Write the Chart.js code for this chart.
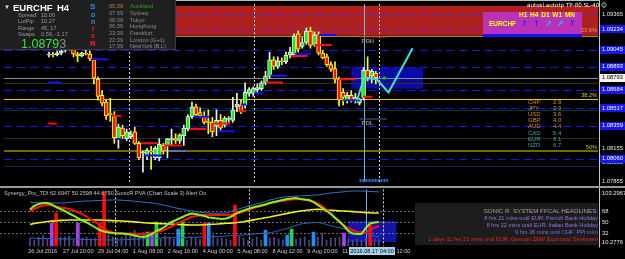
<!DOCTYPE html>
<html>
<head>
<meta charset="utf-8">
<script src="https://cdn.jsdelivr.net/npm/chart.js@4.4.1/dist/chart.umd.min.js"></script>
<style>
body { margin:0; background:#000; width:625px; height:259px; overflow:hidden; position:relative; font-family:"Liberation Sans", Arial, sans-serif; }
canvas { position:absolute; left:0; }
#main { top:0; }
#ind { top:186px; }
.t { position:absolute; white-space:nowrap; line-height:1; }
#info { position:absolute; left:0; top:0; width:175px; height:49px; background:#1f1f1f; border-right:1px solid #3c3c3c; border-bottom:1px solid #3c3c3c; }
#mtf { position:absolute; left:483px; top:12px; width:99px; height:22px; background:#b932b9; border-bottom:3px solid #1414ff; }
#news { position:absolute; left:415px; top:203px; width:183px; height:42px; background:#1d1d1d; }
#tbox { position:absolute; left:349px; top:247px; width:46px; height:8px; background:#a9d4ee; color:#000; font-size:5.6px; line-height:8px; text-align:center; }
</style>
</head>
<body>
<canvas id="main" width="625" height="186"></canvas>
<canvas id="ind" width="625" height="73"></canvas>

<div style="position:absolute;left:0;top:0;width:600px;height:1px;background:#bdbdbd"></div>
<div style="position:absolute;left:0;top:186px;width:625px;height:2px;background:#9a9a9a"></div>

<div id="info"></div>
<div class="t" style="left:4px;top:4px;font-size:6px;color:#ddd">▼</div>
<div class="t" style="left:13px;top:3px;font-size:9.5px;font-weight:bold;color:#fff">EURCHF</div>
<div class="t" style="left:57px;top:3px;font-size:9.5px;font-weight:bold;color:#fff">H4</div>
<div class="t" style="left:18px;top:13px;font-size:5.6px;color:#9a9a9a">Spread</div>
<div class="t" style="left:41px;top:13px;font-size:5.6px;color:#9a9a9a">10.00</div>
<div class="t" style="left:18px;top:19px;font-size:5.6px;color:#9a9a9a">LotPip</div>
<div class="t" style="left:41px;top:19px;font-size:5.6px;color:#9a9a9a">10.27</div>
<div class="t" style="left:18px;top:26px;font-size:5.6px;color:#9a9a9a">Range</div>
<div class="t" style="left:41px;top:26px;font-size:5.6px;color:#9a9a9a">45, 17</div>
<div class="t" style="left:18px;top:32px;font-size:5.6px;color:#9a9a9a">Swaps</div>
<div class="t" style="left:41px;top:32px;font-size:5.6px;color:#9a9a9a">0.59, -1.17</div>
<div class="t" style="left:21px;top:38px;font-size:12.5px;color:#3ce03c">1.0879<span style="color:#8c8c8c">3</span></div>
<div class="t" style="left:90px;top:3px;font-size:8px;font-weight:bold;color:#2a8cf0">S</div>
<div class="t" style="left:91px;top:11px;font-size:7px;font-weight:bold;color:#2a8cf0">o</div>
<div class="t" style="left:91px;top:18px;font-size:7px;font-weight:bold;color:#2a8cf0">n</div>
<div class="t" style="left:92px;top:25px;font-size:7px;font-weight:bold;color:#ff2020">i</div>
<div class="t" style="left:91px;top:32px;font-size:7px;font-weight:bold;color:#ff2020">c</div>
<div class="t" style="left:90px;top:40px;font-size:8px;font-weight:bold;color:#ff2020">R</div>
<div id="clock"></div>

<div class="t" style="left:527px;top:3px;font-size:5.6px;color:#fff;font-family:'DejaVu Sans',sans-serif">autosl.autotp TP-80 SL-40 ☺</div>
<div id="mtf"></div>
<div class="t" style="left:519px;top:12px;font-size:6.5px;color:#ffff00;font-weight:bold;word-spacing:1px">H1 H4 D1 W1 MN</div>
<div class="t" style="left:489px;top:21px;font-size:6.5px;color:#ffff00;font-weight:bold">EURCHF</div>
<div id="arrows"></div>
<div class="t" style="left:581px;top:28px;font-size:5.6px;color:#ff9a1a">23.6%</div>

<div id="strength"></div>

<div class="t" style="left:4px;top:191px;font-size:5.6px;color:#c4c4c4">Synergy_Pro_TDI 62.6947 50.2598 44.6790 SonicR PVA  (Chart Scale 3)  Alert On</div>
<div id="news"></div>
<div id="headlines"></div>
<div id="tbox">2016.08.17 04:00</div>

<script>
// candles, H4 EURCHF, one per bar index
const open = [1.08999,1.09008,1.08999,1.09016,1.09042,1.09095,1.09069,1.09008,1.08990,1.09016,
  1.09008,1.08955,1.08781,1.08634,1.08573,1.08468,1.08442,1.08242,1.08338,1.08242,
  1.08259,1.08303,1.08199,1.08112,1.08085,1.08129,1.08068,1.08068,1.08181,1.08181,
  1.08233,1.08242,1.08225,1.08268,1.08329,1.08442,1.08529,1.08477,1.08442,1.08399,
  1.08390,1.08355,1.08407,1.08364,1.08416,1.08407,1.08529,1.08547,1.08547,1.08651,
  1.08651,1.08686,1.08694,1.08747,1.08808,1.08955,1.08895,1.08947,1.08938,1.08999,
  1.08999,1.09190,1.09077,1.09112,1.09216,1.09095,1.09182,1.09016,1.08982,1.08912,
  1.08877,1.08781,1.08660,1.08590,1.08634,1.08590,1.08564,1.08616,1.08860,1.08808,
  1.08834]
const high = [1.09025,1.09025,1.09034,1.09060,1.09129,1.09129,1.09077,1.09025,1.09025,1.09051,
  1.09034,1.08964,1.08799,1.08677,1.08590,1.08607,1.08486,1.08373,1.08364,1.08329,
  1.08312,1.08346,1.08216,1.08129,1.08155,1.08172,1.08172,1.08242,1.08199,1.08242,
  1.08329,1.08286,1.08286,1.08364,1.08460,1.08573,1.08555,1.08520,1.08486,1.08503,
  1.08434,1.08503,1.08460,1.08442,1.08442,1.08616,1.08651,1.08590,1.08747,1.08703,
  1.08712,1.08738,1.08764,1.08851,1.09025,1.08982,1.08982,1.08973,1.09025,1.09069,
  1.09190,1.09216,1.09156,1.09243,1.09251,1.09208,1.09208,1.09042,1.09008,1.08938,
  1.08938,1.08799,1.08694,1.08660,1.08677,1.08651,1.08607,1.08886,1.08982,1.08868,
  1.08851]
const low = [1.08982,1.08982,1.08990,1.08999,1.09025,1.09042,1.08982,1.08938,1.08982,1.08999,
  1.08947,1.08738,1.08590,1.08538,1.08416,1.08399,1.08199,1.08155,1.08242,1.08225,
  1.08242,1.08190,1.08051,1.07938,1.08051,1.07964,1.08051,1.08042,1.08103,1.08068,
  1.08181,1.08199,1.08199,1.08181,1.08312,1.08425,1.08442,1.08434,1.08373,1.08286,
  1.08259,1.08268,1.08312,1.08346,1.08390,1.08390,1.08486,1.08468,1.08520,1.08625,
  1.08625,1.08660,1.08677,1.08729,1.08790,1.08868,1.08877,1.08912,1.08921,1.08973,
  1.08982,1.09025,1.09060,1.09095,1.09060,1.09077,1.08999,1.08964,1.08895,1.08851,
  1.08747,1.08538,1.08547,1.08564,1.08573,1.08564,1.08547,1.08590,1.08764,1.08747,
  1.08738]
const close = [1.09008,1.08999,1.09016,1.09034,1.09095,1.09069,1.09008,1.08990,1.09016,1.09008,
  1.08964,1.08790,1.08625,1.08564,1.08451,1.08460,1.08251,1.08346,1.08268,1.08303,
  1.08286,1.08199,1.08068,1.08120,1.08138,1.08120,1.08155,1.08190,1.08129,1.08242,
  1.08242,1.08225,1.08277,1.08338,1.08442,1.08529,1.08460,1.08451,1.08390,1.08390,
  1.08303,1.08407,1.08338,1.08425,1.08425,1.08503,1.08555,1.08486,1.08660,1.08686,
  1.08694,1.08703,1.08747,1.08808,1.08955,1.08895,1.08947,1.08938,1.08999,1.09025,
  1.09173,1.09051,1.09112,1.09216,1.09086,1.09182,1.09016,1.08973,1.08912,1.08868,
  1.08781,1.08590,1.08616,1.08634,1.08590,1.08616,1.08599,1.08860,1.08790,1.08851,
  1.08793]

const timeLabels = ['26 Jul 2016','27 Jul 20:00','29 Jul 04:00','1 Aug 08:00','2 Aug 16:00','4 Aug 00:00',
  '5 Aug 08:00','8 Aug 12:00','9 Aug 20:00','11 Aug 04:00','12 Aug 12:00']
const weekStarts = [19.6, 50.2, 80.9]
const markerBar = 77

// price levels
const bid = 1.08793
const gridPrices = [1.09365, 1.08155, 1.08025, 1.07855]
const lineLevels = [1.09365, 1.09234, 1.09045, 1.08893, 1.08684, 1.08517, 1.08359, 1.08060]
const boxedLevels = [1.09234, 1.09045, 1.08893, 1.08684, 1.08517, 1.08359, 1.08060]
const pivotLevels = [1.08747, 1.08503, 1.08251, 1.07998]
const fib236 = 1.09173, fib382 = 1.08599, fib50 = 1.08129
const zone = [1.09173, 1.09443]
const sonicBox = [74, 91.6, 1.08694, 1.08886]

// short lines [fromBar, toBar, price]
const redSegments = [[-0.2,1.9,1.0838],[15.4,17.7,1.0845],[22.5,26.7,1.0820],[28.3,32.5,1.0818],[34.4,38.5,1.0833],
  [40.2,44.4,1.0838],[46.3,48.3,1.0849],[53.1,57.3,1.0875],[59.2,63.3,1.0899],[65,69.2,1.0909],[71,75.2,1.0878],[76.9,79.2,1.0862]]
const blueSegments = [[-0.2,2.9,1.0875],[10.4,14.6,1.0896],[16.5,17.7,1.0824],[23.3,27.7,1.0809],[35.4,39.4,1.0844],
  [41.3,45.4,1.0831],[47,48.3,1.0855],[50.2,52.5,1.0865],[54.2,58.3,1.0881],[60.2,64.2,1.0901],[66,70.2,1.0918],[71.9,76,1.0859]]
const slateSegments = [[29.4,33.5,1.0813]]
const rdh = [76, 82.7, 1.0916]
const rdl = [76, 82.7, 1.0842]
const lowMark = [76, 83, 1.07864]
const projection = [[75.4,1.0859],[77.1,1.0879],[80.2,1.08781],[83.1,1.0866],[89,1.0906]]
const signalDot = [82.1, 1.0879]

// Synergy TDI panel
const priceLine = [70.5,76.2,79.5,81.1,81.1,78.6,74.5,71.3,68,63.9,60.6,56.5,52.4,49.2,45.1,41,36.9,34.5,32.8,32,
  31.2,31.2,30.4,29.6,27.9,26.3,25.5,27.1,30.4,35.3,38.5,42.6,48.4,51.6,54.9,58.2,61.5,63.9,63.1,61.5,
  59.8,57.4,56.5,55.7,54.9,55.7,58.2,62.3,66.4,68.8,71.3,73.7,75.4,77,78.6,81.1,82.7,84.4,86,87.6,
  88.5,89.3,87.6,86.8,86,82.7,77.8,72.9,68,63.1,56.5,50.8,43.5,35.3,31.2,30.4,30.4,40.2,47.6,49.2,50]
const signalLine = [68,71.3,74.5,77,77.8,77,75.4,73.7,72.9,71.3,68.8,66.4,63.1,59,54.1,50,45.1,39.4,35.3,32.8,
  32,31.6,31.3,31,30.7,30.4,30.4,30.7,31.5,33.3,35.3,37.7,41,44.3,48.4,51.6,54.9,58.2,59.8,60.6,
  61.5,61.5,61.5,61.5,61.5,61.5,62.3,63.4,64.7,67.2,69.6,72.1,74.5,76.2,78.6,81.1,82.7,83.9,84.7,85.7,
  86.7,87.3,87.6,86.3,85.2,83.5,80.3,76.2,70.5,63.9,56.5,49.2,44.3,40.2,36.9,33.6,32.8,32.8,36.9,41,43.5]
const baseLine = [45.9,47.6,48.7,49.7,50.7,51.5,52.1,52.6,52.9,53.3,53.3,53.3,53.3,53.3,53.3,53.3,53.3,52.9,52.6,52.3,
  52,51.6,51.3,50.8,50.2,49.5,48.8,48.4,48,47.7,47.4,47.1,46.7,46.3,45.9,45.6,45.3,45.1,45.1,45.1,
  45.4,45.8,46.3,46.7,47.4,47.9,48.2,48.7,49.5,50.5,51.8,53.1,54.4,55.7,57,58.2,59.7,61.1,62.6,64.1,
  65.5,66.9,68,68.8,69.6,70.5,70.9,70.5,69.6,69.1,68.7,68.2,68,67.5,67,66.4,65.9,65.4,65.1,64.7,64.7]
const bandUpper = [82.4,81.9,81.4,81.1,81.1,81.1,81.1,81.1,81.1,81.9,82.7,83.4,83.9,84.4,84.4,84.9,85.2,85.5,85.8,86,
  86,85.7,85.2,84.7,84,83.2,82.4,81.7,81.1,80.3,78.6,77,75.4,73.7,72.1,70.9,69.6,68.3,67.2,66,
  65.1,64.7,64.4,64.4,64.6,64.7,67.2,69.6,71.6,73.7,75.9,77.8,79.5,81.1,83.5,86,87.6,89.3,90.6,91.2,
  91.9,92.2,92.5,93,93.5,93.8,94.2,95.3,96.3,97.4,98.1,98.8,99.4,100.1,100.7,100.7,100.6,100.2,99.9,99.6,99.2]
const bandLower = [23.8,23.5,23.2,23,22.8,22.7,22.5,22.4,22.2,22.2,22,21.9,21.5,21.4,21.2,21,20.9,20.7,20.6,20.6,
  20.6,20.9,21.2,21.5,21.9,22.2,22.5,22.8,23.2,23.5,23.8,24,24.2,24.3,24.5,24.6,24.8,25,25.1,25.3,
  25.5,25.5,26,26.3,26.6,27.1,27.6,27.9,28.4,28.7,29.4,30,30.7,31.2,32,32.3,34,35.9,37.9,39.4,
  41.8,44.3,46.7,47.6,48.4,48.9,49.2,48,45.9,43.8,42,40.8,39,37.4,35.4,33.8,32.3,30.5,28.7,27.1,25.8]
const volume = [23.8,20.6,25.5,28.7,22.2,48.4,64.7,25.5,25.5,27.1,20.6,48.4,23.8,25.5,22.2,23.8,48.4,99,28.7,25.5,
  23.8,25.5,32,27.1,36.9,25.5,33.6,33.6,33.6,50,22.2,27.1,25.5,22.2,38.5,50,20.6,25.5,23.8,22.2,
  48.4,48.4,28.7,23.8,23.8,22.2,20.6,77.8,27.1,23.8,20.6,22.2,25.5,20.6,36.9,23.8,25.5,22.2,20.6,28.7,
  38.5,22.2,23.8,25.5,20.6,33.6,25.5,32,20.6,23.8,23.8,25.5,32,22.2,20.6,22.2,20.6,23.8,45.1,22.2,20.6]
// s normal, p purple, r red climax, g green, b blue
const pvaType = 'sssssprsss' + 'spssssrrss' + 'sssssssgpg' + 'ssssbgssss' + 'rbsssssrss' +
  'ssssbssssb' + 'gssssbssss' + 'sspsssssrs' + 's'
const tdiLevels = [68, 50, 32]
const tdiMin = 10.2776, tdiMax = 103.2967
const tdiBox = [73, 84, 17.3, 51.6]

const clock = [['05:39','Auckland'],['07:39','Sydney'],['08:39','Tokyo'],['06:39','HongKong'],
  ['23:39','Frankfurt'],['22:39','London  (G+1)'],['17:39','NewYork  (B,L)']]
const strength = [['CHF','2.9'],['JPY','2.9'],['USD','3.6'],['GBP','4.0'],['AUD','4.4'],['CAD','5.4'],['EUR','6.1'],['NZD','6.7']]
const trend = ['up','up','diag','diag','up']
const headlines = ['SONIC R. SYSTEM  FFCAL HEADLINES:','8 hrs 21 mins until EUR: French Bank Holiday',
  '8 hrs 22 mins until EUR: Italian Bank Holiday','9 hrs 36 mins until CHF: PPI m/m',
  '1 days 11 hrs 21 mins until EUR: German ZEW Economic Sentiment']

Chart.defaults.font.family = '"Liberation Sans", Arial, sans-serif'
const xMin = -0.625, xMax = 124

// html bits
let html = ''
const rows = [7, 14, 21, 27, 34, 41, 47]
clock.forEach((c, i) => {
  html += `<div class="t" style="left:109px;top:${rows[i] - 3}px;font-size:5.6px;color:${i ? '#8e8e8e' : '#c98434'}">${c[0]}</div>`
  html += `<div class="t" style="left:130px;top:${rows[i] - 3}px;font-size:5.6px;color:${i ? '#8e8e8e' : '#2c9e2c'}">${c[1]}</div>`
})
document.getElementById('clock').innerHTML = html

html = ''
trend.forEach((t, i) => {
  html += `<div class="t" style="left:${521 + i * 12}px;top:20px;font-size:8px;font-weight:bold;font-family:'DejaVu Sans';color:${t == 'up' ? '#1030ff' : '#18c8f0'}">${t == 'up' ? '↑' : '↗'}</div>`
})
document.getElementById('arrows').innerHTML = html

html = ''
strength.forEach((s, i) => {
  const col = i < 5 ? '#d98e2a' : '#3aa3a3'
  html += `<div class="t" style="left:528px;top:${99 + i * 6.1}px;font-size:6px;color:${col}">${s[0]}</div>`
  html += `<div class="t" style="left:553px;top:${99 + i * 6.1}px;font-size:6px;color:${col}">${s[1]}</div>`
})
document.getElementById('strength').innerHTML = html

html = ''
const hcol = ['#a4a4a4', '#9b6fe0', '#9b6fe0', '#7a6cf0', '#ff1e1e']
const hy = [211, 218.5, 225.5, 232.5, 239.5]
headlines.forEach((h, i) => {
  html += `<div class="t" style="right:27px;top:${hy[i] - 3}px;font-size:${i ? 5.6 : 6.2}px;color:${hcol[i]}">${h}</div>`
})
document.getElementById('headlines').innerHTML = html

// helpers
function hline(ctx, x0, x1, yy, color, w, dash) {
  ctx.beginPath()
  ctx.setLineDash(dash || [])
  ctx.strokeStyle = color
  ctx.lineWidth = w
  const yp = w % 2 ? Math.round(yy) + 0.5 : Math.round(yy)
  ctx.moveTo(x0, yp)
  ctx.lineTo(x1, yp)
  ctx.stroke()
}
function vline(ctx, xx, y0, y1, color, dash) {
  ctx.beginPath()
  ctx.setLineDash(dash || [])
  ctx.strokeStyle = color
  ctx.lineWidth = 1
  ctx.moveTo(Math.round(xx) + 0.5, y0)
  ctx.lineTo(Math.round(xx) + 0.5, y1)
  ctx.stroke()
}
function axisLabel(ctx, yy, text, bg, fg) {
  if (bg) {
    ctx.fillStyle = bg
    ctx.fillRect(600, Math.round(yy) - 4, 25, 8)
  }
  ctx.fillStyle = fg
  ctx.font = '5.8px "Liberation Sans"'
  ctx.textAlign = 'left'
  ctx.textBaseline = 'middle'
  ctx.fillText(text, 602, yy)
}
function segData(list) {
  return list.flatMap(s => [{ x: s[0], y: s[2] }, { x: s[1], y: s[2] }, { x: s[1], y: null }])
}
function series(vals) {
  return vals.map((v, i) => ({ x: i, y: v }))
}

const isBull = open.map((o, i) => close[i] >= o)
const bodyColor = isBull.map(b => b ? '#18f018' : '#ff1010')
const edgeColor = isBull.map(b => b ? '#f0f0f0' : '#ffff00')

const mainArt = {
  id: 'mainArt',
  beforeDatasetsDraw(chart) {
    const { ctx, chartArea: a, scales: { x, y } } = chart
    ctx.save()
    const zt = y.getPixelForValue(zone[1]), zb = y.getPixelForValue(zone[0])
    ctx.fillStyle = '#b0201e'
    ctx.fillRect(a.left, zt, a.right - a.left, zb - zt)

    const bx0 = x.getPixelForValue(sonicBox[0]), bx1 = x.getPixelForValue(sonicBox[1])
    const by0 = y.getPixelForValue(sonicBox[3]), by1 = y.getPixelForValue(sonicBox[2])
    ctx.fillStyle = '#0a0aa6'
    ctx.fillRect(bx0, by0, bx1 - bx0, by1 - by0)

    const pivotCols = ['#3e2c12', '#0f3a12', '#2a2a2a', '#1e1e50']
    pivotLevels.forEach((p, i) => hline(ctx, a.left, a.right, y.getPixelForValue(p), pivotCols[i], 1))
    hline(ctx, a.left, a.right, y.getPixelForValue(fib236), '#9c9c00', 1)
    hline(ctx, a.left, a.right, y.getPixelForValue(fib382), '#e6c200', 1)
    hline(ctx, a.left, a.right, y.getPixelForValue(fib50), '#6e6a00', 2)
    lineLevels.forEach(p => {
      const inZone = p > zone[0] && p < zone[1]
      hline(ctx, a.left, a.right, y.getPixelForValue(p), inZone ? '#5a2ad0' : '#1414f0', 1, [8, 5])
    })
    hline(ctx, a.left, a.right, y.getPixelForValue(bid), '#8c8c8c', 1)

    weekStarts.forEach(w => vline(ctx, x.getPixelForValue(w), a.top, a.bottom, '#d8d8d8', [2, 2]))
    vline(ctx, x.getPixelForValue(markerBar), a.top, a.bottom, '#7ab8d8')
    ctx.restore()
  },
  afterDatasetsDraw(chart) {
    const { ctx, chartArea: a, scales: { x, y } } = chart
    ctx.save()
    vline(ctx, 599, 0, 186, '#c8c8c8')
    gridPrices.forEach(p => axisLabel(ctx, y.getPixelForValue(p), p.toFixed(5), null, '#e8e8e8'))
    boxedLevels.forEach(p => axisLabel(ctx, y.getPixelForValue(p), p.toFixed(5), '#1616f2', '#ffffff'))
    axisLabel(ctx, y.getPixelForValue(bid), bid.toFixed(5), '#f4f4f4', '#000000')

    ctx.font = '5.6px "Liberation Sans"'
    ctx.textBaseline = 'bottom'
    ctx.textAlign = 'right'
    ctx.fillStyle = '#e6c200'
    ctx.fillText('38.2%', a.right - 1, y.getPixelForValue(fib382) - 0.5)
    ctx.fillStyle = '#c8c400'
    ctx.fillText('50%', a.right - 1, y.getPixelForValue(fib50) - 1)

    ctx.font = 'bold 5.8px "Liberation Sans"'
    ctx.textAlign = 'left'
    ctx.textBaseline = 'top'
    ctx.fillStyle = '#8e8e8e'
    ctx.fillText('RDH', x.getPixelForValue(rdh[0]) + 2, y.getPixelForValue(rdh[2]) + 1.5)
    ctx.fillText('RDL', x.getPixelForValue(rdl[0]) + 2, y.getPixelForValue(rdl[2]) + 1.5)
    ctx.restore()
  }
}

new Chart(document.getElementById('main'), {
  type: 'bar',
  data: {
    datasets: [
      { type: 'line', data: projection.map(p => ({ x: p[0], y: p[1] })), borderColor: '#3fe3d3', borderWidth: 2, pointRadius: 0, order: 0 },
      { type: 'line', data: [{ x: signalDot[0], y: signalDot[1] }], showLine: false, pointRadius: 1.8, pointBorderWidth: 0, pointBackgroundColor: '#00c800', order: 0 },
      { type: 'line', data: segData(redSegments), borderColor: '#ff0c0c', borderWidth: 2, pointRadius: 0, spanGaps: false, order: 1 },
      { type: 'line', data: segData(blueSegments), borderColor: '#1010ff', borderWidth: 2, pointRadius: 0, spanGaps: false, order: 1 },
      { type: 'line', data: segData(slateSegments), borderColor: '#6c6cb4', borderWidth: 2, pointRadius: 0, spanGaps: false, order: 1 },
      { type: 'line', data: segData([rdh]), borderColor: '#8a1c1c', borderWidth: 1, pointRadius: 0, order: 1 },
      { type: 'line', data: segData([rdl]), borderColor: '#3a6a9a', borderWidth: 1, pointRadius: 0, order: 1 },
      { type: 'line', data: segData([lowMark]), borderColor: '#2a70d8', borderWidth: 3, borderDash: [2, 1], pointRadius: 0, order: 1 },
      { type: 'bar', data: open.map((o, i) => ({ x: i, y: [o, close[i]] })), backgroundColor: bodyColor, borderColor: edgeColor,
        borderWidth: 1, borderSkipped: false, barThickness: 4, minBarLength: 1, grouped: false, order: 2 },
      { type: 'bar', data: open.map((o, i) => ({ x: i, y: [low[i], high[i]] })), backgroundColor: edgeColor,
        barThickness: 1, grouped: false, order: 3 }
    ]
  },
  options: {
    responsive: false, animation: false, devicePixelRatio: 1, events: [],
    layout: { padding: { top: 0, bottom: 1, left: 0, right: 0 } },
    plugins: { legend: { display: false }, tooltip: { enabled: false } },
    scales: {
      x: { type: 'linear', min: xMin, max: xMax, display: false },
      y: { type: 'linear', position: 'right', min: 1.0785, max: 1.0946,
        ticks: { display: false }, grid: { display: false }, border: { display: false },
        afterFit: s => { s.width = 27 } }
    }
  },
  plugins: [mainArt]
})

const indArt = {
  id: 'indArt',
  beforeDatasetsDraw(chart) {
    const { ctx, chartArea: a, scales: { x, y } } = chart
    ctx.save()
    const bx0 = x.getPixelForValue(tdiBox[0]), bx1 = x.getPixelForValue(tdiBox[1])
    const by0 = y.getPixelForValue(tdiBox[3]), by1 = y.getPixelForValue(tdiBox[2])
    ctx.fillStyle = '#1414a8'
    ctx.fillRect(bx0, by0, bx1 - bx0, by1 - by0)
    tdiLevels.forEach(v => hline(ctx, a.left, a.right, y.getPixelForValue(v), '#6a6a6a', 1, [2, 2]))
    weekStarts.forEach(w => vline(ctx, x.getPixelForValue(w), a.top, a.bottom, '#d8d8d8', [2, 2]))
    vline(ctx, x.getPixelForValue(markerBar), a.top, a.bottom + 2, '#7ab8d8')
    ctx.restore()
  },
  afterDatasetsDraw(chart) {
    const { ctx, chartArea: a, scales: { y } } = chart
    ctx.save()
    vline(ctx, 599, 0, a.bottom + 1, '#c8c8c8')
    const lab = [tdiMax, ...tdiLevels, tdiMin]
    lab.forEach(v => {
      const yy = Math.min(Math.max(y.getPixelForValue(v), a.top + 3.5), a.bottom - 4)
      axisLabel(ctx, yy, Number.isInteger(v) ? String(v) : v.toFixed(4), null, '#e8e8e8')
    })
    ctx.restore()
  }
}

const pvaColor = { p: '#a642e6', r: '#ff0a0a', g: '#22d060', b: '#1e8ef8' }
const pvaBars = volume.map((v, i) => ({ x: i, y: v, t: pvaType[i] })).filter(d => d.t != 's')
const plainBars = volume.map((v, i) => ({ x: i, y: v, t: pvaType[i] })).filter(d => d.t == 's')

new Chart(document.getElementById('ind'), {
  type: 'bar',
  data: {
    datasets: [
      { type: 'line', data: series(priceLine), borderColor: '#86f21a', borderWidth: 2, pointRadius: 0, order: 0 },
      { type: 'line', data: series(signalLine), borderColor: '#ff0c0c', borderWidth: 2, pointRadius: 0, order: 1 },
      { type: 'line', data: series(baseLine), borderColor: '#f2f21a', borderWidth: 1.6, pointRadius: 0, order: 2 },
      { type: 'line', data: series(bandUpper), borderColor: '#2e74cc', borderWidth: 1, pointRadius: 0, order: 3 },
      { type: 'line', data: series(bandLower), borderColor: '#2a62b4', borderWidth: 1, pointRadius: 0, order: 3 },
      { type: 'bar', data: pvaBars, backgroundColor: pvaBars.map(d => pvaColor[d.t]), barThickness: 3, grouped: false, order: 4 },
      { type: 'bar', data: plainBars, backgroundColor: '#4a4888', barThickness: 1, grouped: false, order: 5 }
    ]
  },
  options: {
    responsive: false, animation: false, devicePixelRatio: 1, events: [],
    layout: { padding: { top: 3.4, bottom: 0, left: 0, right: 0 } },
    plugins: { legend: { display: false }, tooltip: { enabled: false } },
    scales: {
      x: { type: 'linear', min: xMin, max: xMax, position: 'bottom',
        grid: { display: false, drawTicks: false }, border: { display: false },
        afterBuildTicks: s => { s.ticks = timeLabels.map((t, k) => ({ value: k * 8 - 0.4 })) },
        afterFit: s => { s.height = 12.7 },
        ticks: { autoSkip: false, maxRotation: 0, align: 'start', padding: 2, color: '#cfcfcf',
          font: { size: 5.6 }, callback: (v, i) => timeLabels[i] } },
      y: { type: 'linear', position: 'right', min: tdiMin, max: tdiMax,
        ticks: { display: false }, grid: { display: false }, border: { display: false },
        afterFit: s => { s.width = 27 } }
    }
  },
  plugins: [indArt]
})
</script>
</body>
</html>
